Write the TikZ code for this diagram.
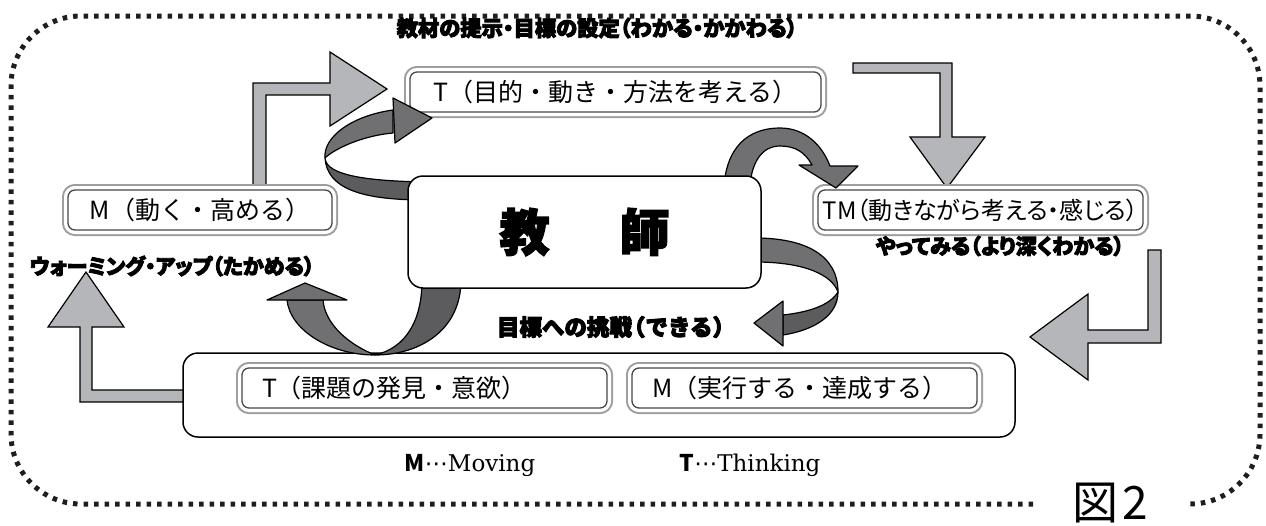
\documentclass[tikz,border=0pt]{standalone}
\usepackage{fontspec}
\setmainfont{DejaVu Serif}
\newfontfamily\jp{Noto Sans CJK JP}
\newfontfamily\jpp{Noto Sans CJK JP}[RawFeature=+palt]
\newfontfamily\jph{Noto Sans CJK JP}[RawFeature=+palt, BoldFeatures={FakeBold=4}]
\newfontfamily\jphn{Noto Sans CJK JP}[BoldFeatures={FakeBold=4}]
\newfontfamily\jpt{Noto Sans CJK JP}[BoldFeatures={FakeBold=3}]
\newfontfamily\dvs{DejaVu Sans}
\definecolor{lgray}{RGB}{181,182,185}
\definecolor{dgray}{RGB}{112,112,114}
\definecolor{dgrayb}{RGB}{92,92,94}
\definecolor{boxout}{RGB}{158,158,158}
\definecolor{boxin}{RGB}{72,72,72}
\definecolor{dotc}{RGB}{30,30,30}
\tikzset{
  dbox/.style={rounded corners=7pt, draw=boxin, line width=1.3pt, fill=white,
    preaction={draw=boxout, line width=12pt},
    preaction={draw=white, line width=8pt},
    inner sep=0pt, minimum height=40pt, font=\jp\fontsize{25}{30}\selectfont},
  tbox/.style={rounded corners=15pt, draw=black, line width=1.5pt, fill=white, inner sep=0pt},
  blk/.style={fill=lgray, draw=black, line width=1.2pt, line join=miter},
  rib/.style={fill=dgray, draw=black, line width=1.2pt, line join=round},
  ribb/.style={fill=dgrayb, draw=black, line width=1.2pt, line join=round},
  head/.style={inner sep=0pt, font=\jph\bfseries\fontsize{21}{21}\selectfont},
  foot/.style={inner sep=0pt, font=\fontsize{23}{23}\selectfont},
  frame/.style={draw=dotc, line width=5pt, dash pattern=on 4.5pt off 6pt, rounded corners=70pt}
}
\begin{document}
\begin{tikzpicture}[x=1pt,y=-1pt]
\useasboundingbox (0,0) rectangle (1266,525);
% outer dotted frame
\draw[frame] (1033,504) -- (11,504) -- (11,16) -- (1260,16) -- (1260,504) -- (1190,504);

% light block arrows
\draw[blk] (253,190) -- (253,83) -- (330,83) -- (330,52) -- (387,89) -- (330,126) -- (330,95) -- (266,95) -- (266,190) -- cycle;
\draw[blk] (853,63) -- (952,63) -- (952,137) -- (985,137) -- (947,188) -- (910,137) -- (940,137) -- (940,73) -- (853,73) -- cycle;
\draw[blk] (1148,250) -- (1161,250) -- (1161,343) -- (1088,343) -- (1088,380) -- (1030,337) -- (1088,294) -- (1088,330) -- (1148,330) -- cycle;
\draw[blk] (190,402) -- (80,402) -- (80,327) -- (48,327) -- (86,272) -- (124,327) -- (92,327) -- (92,390) -- (190,390) -- cycle;

% boxes
\node[dbox, minimum width=411pt] (tt) at (615.5,92) {T（目的・動き・方法を考える）};
\node[dbox, minimum width=264pt] (mm) at (200,210) {M（動く・高める）};
\node[dbox, minimum width=325pt, font=\jpp\fontsize{24}{30}\selectfont] (tm) at (980.5,210) {TM（動きながら考える・感じる）};
\node[tbox, minimum width=832pt, minimum height=84pt] (bot) at (599,395) {};
\node[dbox, inner xsep=20pt, text width=325pt, align=left] (tk) at (424.5,388) {T（課題の発見・意欲）};
\node[dbox, inner xsep=20pt, text width=305pt, align=left] (mj) at (804.5,388) {M（実行する・達成する）};

% curved ribbon arrows
% a: teacher -> T box
\draw[ribb] (325,158) .. controls (326,176) and (370,181) .. (425,182) -- (425,200) .. controls (360,200) and (327,188) .. (325,158) -- cycle;
\draw[rib] (393,110) .. controls (350,116) and (323,138) .. (325,158) .. controls (333,150) and (360,136) .. (393,133) -- cycle;
\draw[rib] (393,98) -- (432,118) -- (395,143) -- cycle;
% b: teacher -> TM box
\draw[rib] (724,185) .. controls (728,140) and (755,128) .. (780,128) .. controls (805,128) and (822,145) .. (830,166)
  -- (858,166) -- (836,188) -- (799,165) -- (812,165) .. controls (805,152) and (795,146) .. (780,146) .. controls (762,146) and (752,162) .. (750,185) -- cycle;
% c: teacher -> bottom (challenge)
\draw[rib] (755,238) .. controls (805,238) and (838,255) .. (838,292) .. controls (832,275) and (805,262) .. (755,262) -- cycle;
\draw[ribb] (838,292) .. controls (838,315) and (815,330) .. (783,335) -- (783,315) .. controls (810,312) and (830,305) .. (838,292) -- cycle;
\draw[rib] (783,301) -- (754,323) -- (783,346) -- cycle;
% d: teacher -> warming up
\draw[ribb] (375,355) .. controls (405,348) and (422,322) .. (422,280) -- (461,280) .. controls (461,330) and (420,355) .. (375,355) -- cycle;
\draw[rib] (287,300) .. controls (290,330) and (330,355) .. (375,355) .. controls (350,345) and (325,325) .. (323,300) -- cycle;
\draw[rib] (267,300) -- (305,283) -- (347,300) -- cycle;

% teacher box
\node[tbox, minimum width=353pt, minimum height=112pt, font=\jpt\bfseries\fontsize{50}{50}\selectfont] (teacher) at (584.5,232) {教\hspace{70pt}師};

% headings
\node[head, font=\jph\bfseries\fontsize{21.3}{22}\selectfont] (h1) at (597,28) {教材の提示・目標の設定（わかる・かかわる）};
\node[head] (h2) at (172,266) {ウォーミング・アップ（たかめる）};
\node[head] (h3) at (1000,246) {やってみる（より深くわかる）};
\node[head, font=\jphn\bfseries\fontsize{22.5}{23}\selectfont] (h4) at (616,327) {目標への挑戦\kern-9pt（できる）};

% footnotes
\node[foot] (fm) at (470,465) {{\jp\bfseries M}{\dvs ⋯}Moving};
\node[foot] (ft) at (750,465) {{\jp\bfseries T}{\dvs ⋯}Thinking};
\node[inner sep=0pt, anchor=base, font=\jp\fontsize{46}{46}\selectfont] (fig) at (1110,519) {図\hspace{4pt}2};
\end{tikzpicture}
\end{document}
